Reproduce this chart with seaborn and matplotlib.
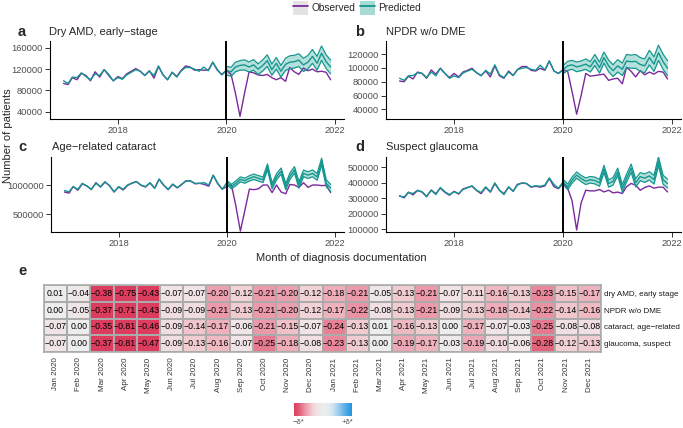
import numpy as np
import pandas as pd
import seaborn as sns
import matplotlib.pyplot as plt
from matplotlib.colors import LinearSegmentedColormap
from matplotlib.patches import Patch
from matplotlib.lines import Line2D
from matplotlib.legend_handler import HandlerTuple

sns.set_style("ticks")
plt.rcParams['font.family'] = ['Liberation Sans', 'DejaVu Sans']

# ---- data ----
months = pd.date_range("2017-01-01", "2021-12-01", freq="MS")
months_post = months[36:]

# a: dry AMD, early stage
amd_obs = [93000, 91000, 104000, 100000, 112000, 108000, 98000, 115000, 105000, 119000, 108000, 98000,
           106000, 102000, 111000, 116000, 121000, 116000, 108000, 117000, 103000, 125000, 109000, 100000,
           114000, 106000, 117000, 126000, 124000, 118000, 119000, 118000, 118000, 133000, 118000, 110000,
           118000, 110000, 75000, 31000, 74000, 115000, 113000, 109000, 108000, 110000, 104000, 100000,
           104000, 97000, 123000, 115000, 110000, 122000, 117000, 120000, 115000, 116000, 114000, 100000]
amd_fit = [98000, 93000, 105000, 104000, 113000, 106000, 100000, 111000, 108000, 119000, 110000, 98000,
           104000, 101000, 109000, 114000, 119000, 116000, 108000, 116000, 108000, 126000, 109000, 100000,
           114000, 105000, 116000, 123000, 123000, 120000, 116000, 124000, 117000, 133000, 119000, 109000]
amd_pred = [117000, 115000, 124000, 127000, 128000, 124000, 128000, 120000, 127000, 136000, 119000, 131000,
            116000, 129000, 133000, 134000, 137000, 128000, 133000, 144000, 131000, 150000, 134000, 124000]
amd_hw = [8000, 8500, 9000, 9000, 9500, 9500, 10000, 10000, 10500, 11000, 10500, 11000,
          11000, 11500, 12000, 12000, 12000, 12500, 12500, 13000, 13000, 13500, 13000, 13000]

# b: NPDR w/o DME
npdr_obs = [81000, 80000, 88000, 84000, 94000, 92000, 85000, 97000, 91000, 99500, 92000, 86000,
            92000, 87000, 94000, 96500, 99500, 93000, 89000, 95500, 87000, 103000, 88500, 85000,
            95500, 89000, 97500, 102000, 102000, 96500, 95500, 99500, 96500, 110000, 95500, 92000,
            97000, 95000, 66000, 33000, 60000, 92000, 88000, 89000, 90000, 91000, 82000, 84000,
            85000, 77000, 101000, 95000, 87000, 96000, 90000, 94000, 91000, 95000, 94000, 84000]
npdr_fit = [85000, 82000, 88500, 89000, 93000, 92000, 86000, 94000, 88500, 99500, 92000, 85000,
            88500, 86000, 92500, 95500, 98000, 93000, 88500, 96500, 91000, 104500, 90000, 86000,
            94000, 89000, 97500, 99500, 100500, 98000, 96500, 104000, 97000, 110000, 95500, 92000]
npdr_pred = [97500, 103000, 104500, 101500, 103000, 105500, 101500, 111500, 100500, 115000, 103000, 96000,
             103000, 98000, 110000, 109000, 109500, 105000, 103000, 115000, 105500, 122000, 109000, 99500]
npdr_hw = [6000, 6500, 6500, 7000, 7000, 7500, 7500, 8000, 8000, 8000, 8500, 8500,
           9000, 9000, 9500, 9500, 10000, 10000, 10000, 10500, 10500, 11000, 11000, 11000]

# c: age-related cataract
cat_obs = [880000, 862000, 975000, 910000, 1020000, 985000, 922000, 1040000, 965000, 1050000, 990000, 880000,
           965000, 915000, 990000, 1035000, 1060000, 995000, 965000, 1035000, 945000, 1100000, 995000, 920000,
           1010000, 950000, 1005000, 1070000, 1070000, 1020000, 1030000, 1010000, 980000, 1165000, 1020000, 930000,
           975000, 1000000, 650000, 210000, 560000, 930000, 920000, 935000, 1000000, 1000000, 870000, 1000000,
           880000, 850000, 1010000, 1000000, 960000, 1040000, 960000, 1000000, 1000000, 990000, 995000, 870000]
cat_fit = [903000, 886000, 972000, 926000, 1028000, 983000, 926000, 1028000, 972000, 1057000, 983000, 886000,
           972000, 926000, 1000000, 1028000, 1057000, 1000000, 972000, 1040000, 943000, 1102000, 1000000, 926000,
           1017000, 955000, 1011000, 1074000, 1068000, 1028000, 1028000, 1040000, 1000000, 1170000, 1028000, 926000]
cat_pred = [1045000, 972000, 1028000, 1097000, 1074000, 1114000, 1142000, 1114000, 1090000, 1312000, 983000, 1142000,
            1240000, 972000, 1150000, 1260000, 1000000, 1200000, 1170000, 1200000, 1140000, 1400000, 1030000, 950000]
cat_hw = [35000, 38000, 40000, 42000, 43000, 45000, 46000, 47000, 48000, 50000, 50000, 51000,
          52000, 53000, 54000, 55000, 55000, 56000, 57000, 58000, 58000, 59000, 60000, 60000]

# d: suspect glaucoma
gla_obs = [316000, 303000, 340000, 322000, 350000, 340000, 310000, 353000, 330000, 366000, 338000, 320000,
           345000, 327000, 360000, 370000, 378000, 350000, 330000, 370000, 340000, 395000, 352000, 330000,
           372000, 345000, 390000, 398000, 395000, 372000, 378000, 372000, 380000, 428000, 375000, 362000,
           396000, 365000, 285000, 95000, 270000, 352000, 348000, 348000, 357000, 341000, 352000, 335000,
           340000, 331000, 374000, 396000, 385000, 352000, 370000, 380000, 365000, 372000, 372000, 341000]
gla_fit = [313000, 309000, 337000, 331000, 352000, 342000, 313000, 352000, 324000, 370000, 342000, 324000,
           342000, 331000, 357000, 368000, 381000, 352000, 337000, 374000, 342000, 400000, 352000, 324000,
           374000, 346000, 385000, 400000, 396000, 374000, 381000, 378000, 385000, 432000, 390000, 365000]
gla_pred = [406000, 374000, 417000, 450000, 428000, 410000, 420000, 415000, 400000, 490000, 395000, 410000,
            471000, 365000, 430000, 495000, 400000, 440000, 430000, 445000, 420000, 540000, 420000, 395000]
gla_hw = [17000, 18000, 19000, 20000, 20000, 21000, 21000, 22000, 22000, 23000, 23000, 24000,
          24000, 25000, 25000, 26000, 26000, 26000, 27000, 27000, 28000, 28000, 29000, 29000]

# e: relative deviation observed vs predicted
heat_rows = ["dry AMD, early stage", "NPDR w/o DME", "cataract, age\u2212related", "glaucoma, suspect"]
heat_cols = [m.strftime("%b %Y") for m in months_post]
dev_amd = [0.01, -0.04, -0.38, -0.75, -0.43, -0.07, -0.07, -0.20, -0.12, -0.21, -0.20, -0.12,
           -0.18, -0.21, -0.05, -0.13, -0.21, -0.07, -0.11, -0.16, -0.13, -0.23, -0.15, -0.17]
dev_npdr = [0.00, -0.05, -0.37, -0.71, -0.43, -0.09, -0.09, -0.21, -0.13, -0.21, -0.20, -0.12,
            -0.17, -0.22, -0.08, -0.13, -0.21, -0.09, -0.13, -0.18, -0.14, -0.22, -0.14, -0.16]
dev_cat = [-0.07, 0.00, -0.35, -0.81, -0.46, -0.09, -0.14, -0.17, -0.06, -0.21, -0.15, -0.07,
           -0.24, -0.13, 0.01, -0.16, -0.13, 0.00, -0.17, -0.07, -0.03, -0.25, -0.08, -0.08]
dev_gla = [-0.07, 0.00, -0.37, -0.81, -0.47, -0.09, -0.13, -0.16, -0.07, -0.25, -0.18, -0.08,
           -0.23, -0.13, 0.00, -0.19, -0.17, -0.03, -0.19, -0.10, -0.06, -0.28, -0.12, -0.13]

PURPLE = "#7a2a9e"
TEAL = "#13978f"
TEAL_FILL = "#a9dbd6"
GREY_TXT = "#4d4d4d"

W, H = 683, 428
fig = plt.figure(figsize=(W / 100, H / 100), dpi=100)


def px_axes(l, t, r, b):
    return fig.add_axes([l / W, 1 - b / H, (r - l) / W, (b - t) / H])


def txt(x, y, s, **kw):
    fig.text(x / W, 1 - y / H, s, **kw)


def panel(ax, obs, fit, pred, hw, ylim, yticks):
    pred = np.array(pred)
    hw = np.array(hw)
    sns.lineplot(x=months, y=obs, ax=ax, color=PURPLE, lw=1.0)
    ax.fill_between(months_post, pred - hw, pred + hw, color=TEAL_FILL, lw=0, alpha=0.85)
    sns.lineplot(x=months_post, y=pred - hw, ax=ax, color=TEAL, lw=0.9)
    sns.lineplot(x=months_post, y=pred + hw, ax=ax, color=TEAL, lw=0.9)
    sns.lineplot(x=months, y=list(fit) + list(pred), ax=ax, color=TEAL, lw=1.0)
    ax.axvline(pd.Timestamp("2020-01-01"), color="black", lw=1.4)
    ax.set_xlim(pd.Timestamp("2016-10-02"), pd.Timestamp("2022-03-01"))
    ax.set_ylim(*ylim)
    xt = [pd.Timestamp(f"{y}-01-01") for y in (2018, 2020, 2022)]
    ax.set_xticks(xt)
    ax.set_xticklabels(["2018", "2020", "2022"])
    ax.set_yticks(yticks)
    ax.set_yticklabels([str(v) for v in yticks])
    ax.set_xlabel("")
    ax.set_ylabel("")
    sns.despine(ax=ax)
    for s in ("left", "bottom"):
        ax.spines[s].set_linewidth(0.8)
        ax.spines[s].set_color("black")
    ax.tick_params(labelsize=6.7, labelcolor=GREY_TXT, length=3.5, width=0.7, color="#333333", pad=1.5)


ax_a = px_axes(50, 41, 344, 119)
panel(ax_a, amd_obs, amd_fit, amd_pred, amd_hw, (26000, 173000), [40000, 80000, 120000, 160000])
ax_b = px_axes(386, 41, 681, 119)
panel(ax_b, npdr_obs, npdr_fit, npdr_pred, npdr_hw, (26000, 139000), [40000, 60000, 80000, 100000, 120000])
ax_c = px_axes(51, 157, 344, 232)
panel(ax_c, cat_obs, cat_fit, cat_pred, cat_hw, (195000, 1480000), [500000, 1000000])
ax_d = px_axes(386, 157, 681, 232)
panel(ax_d, gla_obs, gla_fit, gla_pred, gla_hw, (82000, 567000), [100000, 200000, 300000, 400000, 500000])

# titles / tags
txt(18, 36, "a", fontsize=10.5, fontweight="bold", va="baseline")
txt(49, 35, "Dry AMD, early\u2212stage", fontsize=8, va="baseline")
txt(355, 36, "b", fontsize=10.5, fontweight="bold", va="baseline")
txt(386, 35, "NPDR w/o DME", fontsize=8, va="baseline")
txt(18, 151, "c", fontsize=10.5, fontweight="bold", va="baseline")
txt(52, 149.5, "Age\u2212related cataract", fontsize=8, va="baseline")
txt(355, 151, "d", fontsize=10.5, fontweight="bold", va="baseline")
txt(386, 149.5, "Suspect glaucoma", fontsize=8, va="baseline")
txt(18, 275, "e", fontsize=10.5, fontweight="bold", va="baseline")
txt(8, 136, "Number of patients", fontsize=8, rotation=90, ha="center", va="center")
txt(341, 258, "Month of diagnosis documentation", fontsize=8, ha="center", va="center")

# legend
handles = [(Patch(facecolor="#e3e3e3", edgecolor="none"), Line2D([], [], color=PURPLE, lw=1.3)),
           (Patch(facecolor=TEAL_FILL, edgecolor="none"), Line2D([], [], color=TEAL, lw=1.3))]
fig.legend(handles, ["Observed", "Predicted"], handler_map={tuple: HandlerTuple(ndivide=1, pad=0)},
           loc="center", bbox_to_anchor=(357 / W, 1 - 8 / H), ncol=2, frameon=False,
           fontsize=7.3, handlelength=1.5, handleheight=1.6, handletextpad=0.3, columnspacing=0.5,
           borderpad=0)

# heatmap
heat = pd.DataFrame([dev_amd, dev_npdr, dev_cat, dev_gla], index=heat_rows, columns=heat_cols)
annot = heat.apply(lambda col: col.map(lambda v: f"{v:.2f}".replace("-", "\u2212")))
cmap = LinearSegmentedColormap.from_list("dev", [
    (0.0, "#dc3d5e"), (0.071, "#e0566f"), (0.143, "#e67a90"), (0.2, "#ec9aaa"),
    (0.257, "#eeb3bd"), (0.329, "#f1d3d7"), (0.4, "#f0e4e6"), (0.5, "#ededed"),
    (0.6, "#e3ecf2"), (0.671, "#cfe3f1"), (0.743, "#a9d2ee"), (0.8, "#8ac4ec"),
    (0.857, "#66b4e8"), (0.929, "#3fa4e4"), (1.0, "#1f97e0")])
ax_e = px_axes(44, 285, 601, 352)
cax = px_axes(294, 403, 352, 416)
sns.heatmap(heat, ax=ax_e, cmap=cmap, vmin=-0.35, vmax=0.35, annot=annot.values, fmt="",
            annot_kws={"size": 6.3, "color": "black"}, linewidths=1.2, linecolor="#ababab",
            xticklabels=heat_cols, yticklabels=heat_rows,
            cbar=True, cbar_ax=cax, cbar_kws={"orientation": "horizontal"})
ax_e.yaxis.tick_right()
ax_e.set_yticks(np.arange(len(heat_rows)) + 0.5)
ax_e.set_yticklabels(heat_rows, rotation=0, fontsize=5.8, color="#1a1a1a")
ax_e.set_xticks(np.arange(len(heat_cols)) + 0.5)
ax_e.set_xticklabels(heat_cols, rotation=90, fontsize=5.8, color="#333333")
ax_e.tick_params(axis="y", length=0, pad=2)
ax_e.tick_params(axis="x", length=0, pad=4)
ax_e.set_xlabel("")
ax_e.set_ylabel("")
for s in ax_e.spines.values():
    s.set_visible(True)
    s.set_color("#ababab")
    s.set_linewidth(1.2)

cax.set_xticks([-0.3, 0.3])
cax.set_xticklabels(["\u2212\u03b4*", "+\u03b4*"], fontsize=5.5, color=GREY_TXT)
cax.tick_params(axis="x", top=True, bottom=True, direction="in", color="white", length=2.5, width=0.6, pad=2.5)
for s in cax.spines.values():
    s.set_visible(False)

fig.savefig("out.png", dpi=100)
